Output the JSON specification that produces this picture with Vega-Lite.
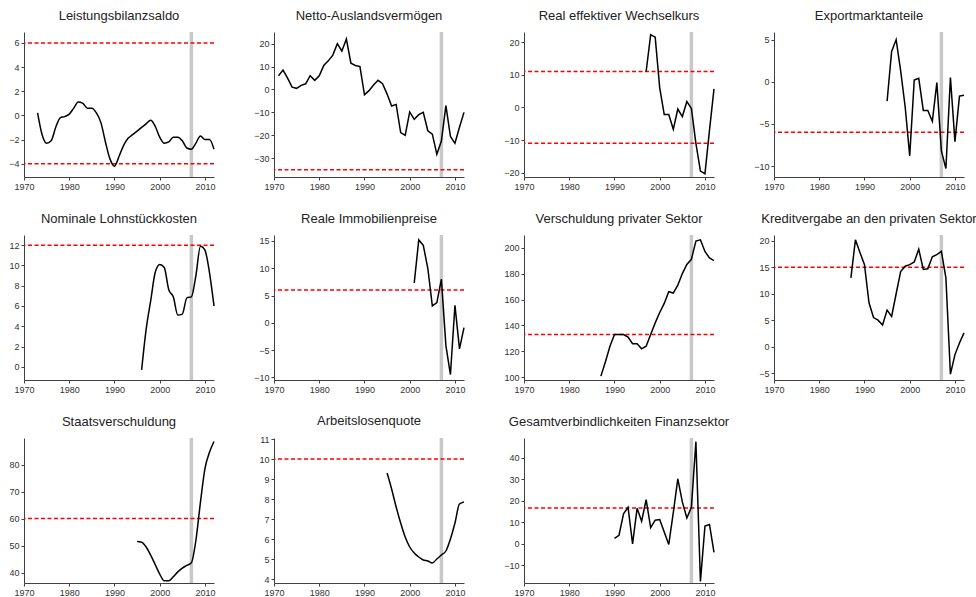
{
  "$schema": "https://vega.github.io/schema/vega-lite/v6.json",
  "background": "white",
  "padding": {"left": 8, "top": 10, "right": 5, "bottom": 5},
  "bounds": "flush",
  "columns": 4,
  "spacing": {"row": 58, "column": 60},
  "datasets": {
    "crisis": [{"year": 2007}],
    "thresholds": [
      {"panel": "leistungsbilanz", "value": 6},
      {"panel": "leistungsbilanz", "value": -4},
      {"panel": "nettoausland", "value": -35},
      {"panel": "reer", "value": 11},
      {"panel": "reer", "value": -11},
      {"panel": "export", "value": -6},
      {"panel": "lohn", "value": 12},
      {"panel": "immo", "value": 6},
      {"panel": "privschuld", "value": 133},
      {"panel": "kredit", "value": 15},
      {"panel": "staat", "value": 60},
      {"panel": "alq", "value": 10},
      {"panel": "finanz", "value": 16.7}
    ],
    "leistungsbilanz": [
      {"year": 1973, "value": 0.2}, {"year": 1974, "value": -1.6}, {"year": 1975, "value": -2.3}, {"year": 1976, "value": -2.1},
      {"year": 1977, "value": -1.0}, {"year": 1978, "value": -0.2}, {"year": 1979, "value": -0.1}, {"year": 1980, "value": 0.1},
      {"year": 1981, "value": 0.6}, {"year": 1982, "value": 1.1}, {"year": 1983, "value": 1.0}, {"year": 1984, "value": 0.6},
      {"year": 1985, "value": 0.6}, {"year": 1986, "value": 0.2}, {"year": 1987, "value": -0.6}, {"year": 1988, "value": -2.2},
      {"year": 1989, "value": -3.6}, {"year": 1990, "value": -4.2}, {"year": 1991, "value": -3.4}, {"year": 1992, "value": -2.5},
      {"year": 1993, "value": -1.9}, {"year": 1994, "value": -1.6}, {"year": 1995, "value": -1.3}, {"year": 1996, "value": -1.0},
      {"year": 1997, "value": -0.7}, {"year": 1998, "value": -0.4}, {"year": 1999, "value": -0.9}, {"year": 2000, "value": -1.8},
      {"year": 2001, "value": -2.3}, {"year": 2002, "value": -2.2}, {"year": 2003, "value": -1.8}, {"year": 2004, "value": -1.8},
      {"year": 2005, "value": -2.1}, {"year": 2006, "value": -2.7}, {"year": 2007, "value": -2.8}, {"year": 2008, "value": -2.3},
      {"year": 2009, "value": -1.7}, {"year": 2010, "value": -2.0}, {"year": 2011, "value": -2.0}, {"year": 2012, "value": -2.8}
    ],
    "nettoausland": [
      {"year": 1971, "value": 6}, {"year": 1972, "value": 8.5}, {"year": 1973, "value": 5}, {"year": 1974, "value": 1},
      {"year": 1975, "value": 0.5}, {"year": 1976, "value": 1.8}, {"year": 1977, "value": 2.5}, {"year": 1978, "value": 6},
      {"year": 1979, "value": 4}, {"year": 1980, "value": 6}, {"year": 1981, "value": 10.5}, {"year": 1982, "value": 12.5},
      {"year": 1983, "value": 15}, {"year": 1984, "value": 20}, {"year": 1985, "value": 16.8}, {"year": 1986, "value": 22},
      {"year": 1987, "value": 11.5}, {"year": 1988, "value": 10.5}, {"year": 1989, "value": 10}, {"year": 1990, "value": -2.3},
      {"year": 1991, "value": -0.5}, {"year": 1992, "value": 2}, {"year": 1993, "value": 4}, {"year": 1994, "value": 2.5},
      {"year": 1995, "value": -2}, {"year": 1996, "value": -7.2}, {"year": 1997, "value": -6.5}, {"year": 1998, "value": -18.8},
      {"year": 1999, "value": -20}, {"year": 2000, "value": -9.8}, {"year": 2001, "value": -13}, {"year": 2002, "value": -11},
      {"year": 2003, "value": -10}, {"year": 2004, "value": -18}, {"year": 2005, "value": -19.5}, {"year": 2006, "value": -28.3},
      {"year": 2007, "value": -22.5}, {"year": 2008, "value": -7}, {"year": 2009, "value": -20.5}, {"year": 2010, "value": -23.5},
      {"year": 2011, "value": -16.5}, {"year": 2012, "value": -10}
    ],
    "reer": [
      {"year": 1997, "value": 11}, {"year": 1998, "value": 22.3}, {"year": 1999, "value": 21.5}, {"year": 2000, "value": 6},
      {"year": 2001, "value": -2.2}, {"year": 2002, "value": -2.2}, {"year": 2003, "value": -6.7}, {"year": 2004, "value": -0.5},
      {"year": 2005, "value": -2.8}, {"year": 2006, "value": 1.8}, {"year": 2007, "value": -0.3}, {"year": 2008, "value": -11},
      {"year": 2009, "value": -19.5}, {"year": 2010, "value": -20.3}, {"year": 2011, "value": -7}, {"year": 2012, "value": 5.7}
    ],
    "export": [
      {"year": 1995, "value": -2.3}, {"year": 1996, "value": 3.6}, {"year": 1997, "value": 5}, {"year": 1998, "value": 1.3},
      {"year": 1999, "value": -3}, {"year": 2000, "value": -8.8}, {"year": 2001, "value": 0.2}, {"year": 2002, "value": 0.4},
      {"year": 2003, "value": -3.4}, {"year": 2004, "value": -3.4}, {"year": 2005, "value": -4.7}, {"year": 2006, "value": -0.1},
      {"year": 2007, "value": -8.2}, {"year": 2008, "value": -10.3}, {"year": 2009, "value": 0.5}, {"year": 2010, "value": -7.1},
      {"year": 2011, "value": -1.7}, {"year": 2012, "value": -1.6}
    ],
    "lohn": [
      {"year": 1996, "value": -0.3}, {"year": 1997, "value": 3.7}, {"year": 1998, "value": 6.5}, {"year": 1999, "value": 9.3},
      {"year": 2000, "value": 10.1}, {"year": 2001, "value": 9.8}, {"year": 2002, "value": 7.6}, {"year": 2003, "value": 6.9},
      {"year": 2004, "value": 5.1}, {"year": 2005, "value": 5.2}, {"year": 2006, "value": 6.8}, {"year": 2007, "value": 6.9},
      {"year": 2008, "value": 9.0}, {"year": 2009, "value": 11.9}, {"year": 2010, "value": 11.5}, {"year": 2011, "value": 9.3},
      {"year": 2012, "value": 6.0}
    ],
    "immo": [
      {"year": 2001, "value": 7.3}, {"year": 2002, "value": 15.2}, {"year": 2003, "value": 14.2}, {"year": 2004, "value": 10},
      {"year": 2005, "value": 3.1}, {"year": 2006, "value": 3.7}, {"year": 2007, "value": 8.0}, {"year": 2008, "value": -4.2},
      {"year": 2009, "value": -9.5}, {"year": 2010, "value": 3.2}, {"year": 2011, "value": -4.8}, {"year": 2012, "value": -0.9}
    ],
    "privschuld": [
      {"year": 1987, "value": 101}, {"year": 1988, "value": 112}, {"year": 1989, "value": 124}, {"year": 1990, "value": 133},
      {"year": 1991, "value": 133}, {"year": 1992, "value": 133}, {"year": 1993, "value": 131}, {"year": 1994, "value": 126},
      {"year": 1995, "value": 126}, {"year": 1996, "value": 122}, {"year": 1997, "value": 124}, {"year": 1998, "value": 133},
      {"year": 1999, "value": 142}, {"year": 2000, "value": 150}, {"year": 2001, "value": 157}, {"year": 2002, "value": 166},
      {"year": 2003, "value": 165}, {"year": 2004, "value": 171}, {"year": 2005, "value": 180}, {"year": 2006, "value": 187},
      {"year": 2007, "value": 191}, {"year": 2008, "value": 205}, {"year": 2009, "value": 206}, {"year": 2010, "value": 197},
      {"year": 2011, "value": 192}, {"year": 2012, "value": 190}
    ],
    "kredit": [
      {"year": 1987, "value": 13}, {"year": 1988, "value": 20.2}, {"year": 1989, "value": 17.8}, {"year": 1990, "value": 15.5},
      {"year": 1991, "value": 8.3}, {"year": 1992, "value": 5.5}, {"year": 1993, "value": 5}, {"year": 1994, "value": 4.1},
      {"year": 1995, "value": 6.9}, {"year": 1996, "value": 5.7}, {"year": 1997, "value": 10}, {"year": 1998, "value": 14.2},
      {"year": 1999, "value": 15.2}, {"year": 2000, "value": 15.5}, {"year": 2001, "value": 16}, {"year": 2002, "value": 18.4},
      {"year": 2003, "value": 14.6}, {"year": 2004, "value": 14.7}, {"year": 2005, "value": 17}, {"year": 2006, "value": 17.4},
      {"year": 2007, "value": 18}, {"year": 2008, "value": 13}, {"year": 2009, "value": -5.2}, {"year": 2010, "value": -1.5},
      {"year": 2011, "value": 0.7}, {"year": 2012, "value": 2.6}
    ],
    "staat": [
      {"year": 1995, "value": 51.5}, {"year": 1996, "value": 51.3}, {"year": 1997, "value": 49.5}, {"year": 1998, "value": 46.5},
      {"year": 1999, "value": 43}, {"year": 2000, "value": 39.5}, {"year": 2001, "value": 37}, {"year": 2002, "value": 37},
      {"year": 2003, "value": 38.5}, {"year": 2004, "value": 40.3}, {"year": 2005, "value": 41.7}, {"year": 2006, "value": 42.7},
      {"year": 2007, "value": 43.7}, {"year": 2008, "value": 52}, {"year": 2009, "value": 66}, {"year": 2010, "value": 78.5},
      {"year": 2011, "value": 84.5}, {"year": 2012, "value": 88.5}
    ],
    "alq": [
      {"year": 1995, "value": 9.3}, {"year": 1996, "value": 8.5}, {"year": 1997, "value": 7.6}, {"year": 1998, "value": 6.8},
      {"year": 1999, "value": 6.1}, {"year": 2000, "value": 5.6}, {"year": 2001, "value": 5.3}, {"year": 2002, "value": 5.1},
      {"year": 2003, "value": 4.95}, {"year": 2004, "value": 4.9}, {"year": 2005, "value": 4.8}, {"year": 2006, "value": 5.0},
      {"year": 2007, "value": 5.2}, {"year": 2008, "value": 5.4}, {"year": 2009, "value": 6.0}, {"year": 2010, "value": 6.8},
      {"year": 2011, "value": 7.75}, {"year": 2012, "value": 7.85}
    ],
    "finanz": [
      {"year": 1990, "value": 2.5}, {"year": 1991, "value": 4}, {"year": 1992, "value": 14}, {"year": 1993, "value": 17},
      {"year": 1994, "value": 0}, {"year": 1995, "value": 16.5}, {"year": 1996, "value": 10.5}, {"year": 1997, "value": 20.5},
      {"year": 1998, "value": 7.5}, {"year": 1999, "value": 11}, {"year": 2000, "value": 11.3}, {"year": 2001, "value": 5.5},
      {"year": 2002, "value": -0.3}, {"year": 2003, "value": 14.5}, {"year": 2004, "value": 30.2}, {"year": 2005, "value": 19.5},
      {"year": 2006, "value": 12}, {"year": 2007, "value": 17}, {"year": 2008, "value": 47.5}, {"year": 2009, "value": -17.5},
      {"year": 2010, "value": 8.3}, {"year": 2011, "value": 9}, {"year": 2012, "value": -4}
    ]
  },
  "concat": [
    {
      "title": "Leistungsbilanzsaldo", "width": 190, "height": 145,
      "layer": [
        {"data": {"name": "crisis"}, "mark": {"type": "rule", "color": "#c8c8c8", "strokeWidth": 3.5},
         "encoding": {"x": {"field": "year", "type": "quantitative", "title": null, "scale": {"domain": [1970, 2012], "nice": false}, "axis": {"values": [1970, 1980, 1990, 2000, 2010], "format": "d", "labelOverlap": false}}}},
        {"data": {"name": "thresholds"}, "transform": [{"filter": "datum.panel === 'leistungsbilanz'"}], "mark": {"type": "rule", "color": "#ff0000", "strokeWidth": 1.5, "strokeDash": [4, 2.5]},
         "encoding": {"y": {"field": "value", "type": "quantitative", "title": null, "scale": {"domain": [-5.1, 6.9], "nice": false, "zero": false}, "axis": {"values": [-4, -2, 0, 2, 4, 6], "labelOverlap": false, "tickCount": 6}}}},
        {"data": {"name": "leistungsbilanz"}, "mark": {"type": "line", "color": "#000000", "strokeWidth": 1.5, "interpolate": "monotone"},
         "encoding": {"x": {"field": "year", "type": "quantitative", "title": null}, "y": {"field": "value", "type": "quantitative", "title": null}}}
      ]
    },
    {
      "title": "Netto-Auslandsvermögen", "width": 190, "height": 145,
      "layer": [
        {"data": {"name": "crisis"}, "mark": {"type": "rule", "color": "#c8c8c8", "strokeWidth": 3.5},
         "encoding": {"x": {"field": "year", "type": "quantitative", "title": null, "scale": {"domain": [1970, 2012], "nice": false}, "axis": {"values": [1970, 1980, 1990, 2000, 2010], "format": "d", "labelOverlap": false}}}},
        {"data": {"name": "thresholds"}, "transform": [{"filter": "datum.panel === 'nettoausland'"}], "mark": {"type": "rule", "color": "#ff0000", "strokeWidth": 1.5, "strokeDash": [4, 2.5]},
         "encoding": {"y": {"field": "value", "type": "quantitative", "title": null, "scale": {"domain": [-38.2, 25.1], "nice": false, "zero": false}, "axis": {"values": [-30, -20, -10, 0, 10, 20], "labelOverlap": false, "tickCount": 6}}}},
        {"data": {"name": "nettoausland"}, "mark": {"type": "line", "color": "#000000", "strokeWidth": 1.5},
         "encoding": {"x": {"field": "year", "type": "quantitative", "title": null}, "y": {"field": "value", "type": "quantitative", "title": null}}}
      ]
    },
    {
      "title": "Real effektiver Wechselkurs", "width": 190, "height": 145,
      "layer": [
        {"data": {"name": "crisis"}, "mark": {"type": "rule", "color": "#c8c8c8", "strokeWidth": 3.5},
         "encoding": {"x": {"field": "year", "type": "quantitative", "title": null, "scale": {"domain": [1970, 2012], "nice": false}, "axis": {"values": [1970, 1980, 1990, 2000, 2010], "format": "d", "labelOverlap": false}}}},
        {"data": {"name": "thresholds"}, "transform": [{"filter": "datum.panel === 'reer'"}], "mark": {"type": "rule", "color": "#ff0000", "strokeWidth": 1.5, "strokeDash": [4, 2.5]},
         "encoding": {"y": {"field": "value", "type": "quantitative", "title": null, "scale": {"domain": [-21.3, 23.1], "nice": false, "zero": false}, "axis": {"values": [-20, -10, 0, 10, 20], "labelOverlap": false, "tickCount": 5}}}},
        {"data": {"name": "reer"}, "mark": {"type": "line", "color": "#000000", "strokeWidth": 1.5},
         "encoding": {"x": {"field": "year", "type": "quantitative", "title": null}, "y": {"field": "value", "type": "quantitative", "title": null}}}
      ]
    },
    {
      "title": "Exportmarktanteile", "width": 190, "height": 145,
      "layer": [
        {"data": {"name": "crisis"}, "mark": {"type": "rule", "color": "#c8c8c8", "strokeWidth": 3.5},
         "encoding": {"x": {"field": "year", "type": "quantitative", "title": null, "scale": {"domain": [1970, 2012], "nice": false}, "axis": {"values": [1970, 1980, 1990, 2000, 2010], "format": "d", "labelOverlap": false}}}},
        {"data": {"name": "thresholds"}, "transform": [{"filter": "datum.panel === 'export'"}], "mark": {"type": "rule", "color": "#ff0000", "strokeWidth": 1.5, "strokeDash": [4, 2.5]},
         "encoding": {"y": {"field": "value", "type": "quantitative", "title": null, "scale": {"domain": [-11.3, 5.9], "nice": false, "zero": false}, "axis": {"values": [-10, -5, 0, 5], "labelOverlap": false, "tickCount": 4}}}},
        {"data": {"name": "export"}, "mark": {"type": "line", "color": "#000000", "strokeWidth": 1.5},
         "encoding": {"x": {"field": "year", "type": "quantitative", "title": null}, "y": {"field": "value", "type": "quantitative", "title": null}}}
      ]
    },
    {
      "title": "Nominale Lohnstückkosten", "width": 190, "height": 145,
      "layer": [
        {"data": {"name": "crisis"}, "mark": {"type": "rule", "color": "#c8c8c8", "strokeWidth": 3.5},
         "encoding": {"x": {"field": "year", "type": "quantitative", "title": null, "scale": {"domain": [1970, 2012], "nice": false}, "axis": {"values": [1970, 1980, 1990, 2000, 2010], "format": "d", "labelOverlap": false}}}},
        {"data": {"name": "thresholds"}, "transform": [{"filter": "datum.panel === 'lohn'"}], "mark": {"type": "rule", "color": "#ff0000", "strokeWidth": 1.5, "strokeDash": [4, 2.5]},
         "encoding": {"y": {"field": "value", "type": "quantitative", "title": null, "scale": {"domain": [-1.3, 13], "nice": false, "zero": false}, "axis": {"values": [0, 2, 4, 6, 8, 10, 12], "labelOverlap": false, "tickCount": 7}}}},
        {"data": {"name": "lohn"}, "mark": {"type": "line", "color": "#000000", "strokeWidth": 1.5, "interpolate": "monotone"},
         "encoding": {"x": {"field": "year", "type": "quantitative", "title": null}, "y": {"field": "value", "type": "quantitative", "title": null}}}
      ]
    },
    {
      "title": "Reale Immobilienpreise", "width": 190, "height": 145,
      "layer": [
        {"data": {"name": "crisis"}, "mark": {"type": "rule", "color": "#c8c8c8", "strokeWidth": 3.5},
         "encoding": {"x": {"field": "year", "type": "quantitative", "title": null, "scale": {"domain": [1970, 2012], "nice": false}, "axis": {"values": [1970, 1980, 1990, 2000, 2010], "format": "d", "labelOverlap": false}}}},
        {"data": {"name": "thresholds"}, "transform": [{"filter": "datum.panel === 'immo'"}], "mark": {"type": "rule", "color": "#ff0000", "strokeWidth": 1.5, "strokeDash": [4, 2.5]},
         "encoding": {"y": {"field": "value", "type": "quantitative", "title": null, "scale": {"domain": [-10.5, 16.1], "nice": false, "zero": false}, "axis": {"values": [-10, -5, 0, 5, 10, 15], "labelOverlap": false, "tickCount": 6}}}},
        {"data": {"name": "immo"}, "mark": {"type": "line", "color": "#000000", "strokeWidth": 1.5},
         "encoding": {"x": {"field": "year", "type": "quantitative", "title": null}, "y": {"field": "value", "type": "quantitative", "title": null}}}
      ]
    },
    {
      "title": "Verschuldung privater Sektor", "width": 190, "height": 145,
      "layer": [
        {"data": {"name": "crisis"}, "mark": {"type": "rule", "color": "#c8c8c8", "strokeWidth": 3.5},
         "encoding": {"x": {"field": "year", "type": "quantitative", "title": null, "scale": {"domain": [1970, 2012], "nice": false}, "axis": {"values": [1970, 1980, 1990, 2000, 2010], "format": "d", "labelOverlap": false}}}},
        {"data": {"name": "thresholds"}, "transform": [{"filter": "datum.panel === 'privschuld'"}], "mark": {"type": "rule", "color": "#ff0000", "strokeWidth": 1.5, "strokeDash": [4, 2.5]},
         "encoding": {"y": {"field": "value", "type": "quantitative", "title": null, "scale": {"domain": [98, 209.7], "nice": false, "zero": false}, "axis": {"values": [100, 120, 140, 160, 180, 200], "labelOverlap": false, "tickCount": 6}}}},
        {"data": {"name": "privschuld"}, "mark": {"type": "line", "color": "#000000", "strokeWidth": 1.5},
         "encoding": {"x": {"field": "year", "type": "quantitative", "title": null}, "y": {"field": "value", "type": "quantitative", "title": null}}}
      ]
    },
    {
      "title": "Kreditvergabe an den privaten Sektor", "width": 190, "height": 145,
      "layer": [
        {"data": {"name": "crisis"}, "mark": {"type": "rule", "color": "#c8c8c8", "strokeWidth": 3.5},
         "encoding": {"x": {"field": "year", "type": "quantitative", "title": null, "scale": {"domain": [1970, 2012], "nice": false}, "axis": {"values": [1970, 1980, 1990, 2000, 2010], "format": "d", "labelOverlap": false}}}},
        {"data": {"name": "thresholds"}, "transform": [{"filter": "datum.panel === 'kredit'"}], "mark": {"type": "rule", "color": "#ff0000", "strokeWidth": 1.5, "strokeDash": [4, 2.5]},
         "encoding": {"y": {"field": "value", "type": "quantitative", "title": null, "scale": {"domain": [-6.3, 21.1], "nice": false, "zero": false}, "axis": {"values": [-5, 0, 5, 10, 15, 20], "labelOverlap": false, "tickCount": 6}}}},
        {"data": {"name": "kredit"}, "mark": {"type": "line", "color": "#000000", "strokeWidth": 1.5},
         "encoding": {"x": {"field": "year", "type": "quantitative", "title": null}, "y": {"field": "value", "type": "quantitative", "title": null}}}
      ]
    },
    {
      "title": "Staatsverschuldung", "width": 190, "height": 145,
      "layer": [
        {"data": {"name": "crisis"}, "mark": {"type": "rule", "color": "#c8c8c8", "strokeWidth": 3.5},
         "encoding": {"x": {"field": "year", "type": "quantitative", "title": null, "scale": {"domain": [1970, 2012], "nice": false}, "axis": {"values": [1970, 1980, 1990, 2000, 2010], "format": "d", "labelOverlap": false}}}},
        {"data": {"name": "thresholds"}, "transform": [{"filter": "datum.panel === 'staat'"}], "mark": {"type": "rule", "color": "#ff0000", "strokeWidth": 1.5, "strokeDash": [4, 2.5]},
         "encoding": {"y": {"field": "value", "type": "quantitative", "title": null, "scale": {"domain": [36.2, 89.8], "nice": false, "zero": false}, "axis": {"values": [40, 50, 60, 70, 80], "labelOverlap": false, "tickCount": 5}}}},
        {"data": {"name": "staat"}, "mark": {"type": "line", "color": "#000000", "strokeWidth": 1.5, "interpolate": "monotone"},
         "encoding": {"x": {"field": "year", "type": "quantitative", "title": null}, "y": {"field": "value", "type": "quantitative", "title": null}}}
      ]
    },
    {
      "title": "Arbeitslosenquote", "width": 190, "height": 145,
      "layer": [
        {"data": {"name": "crisis"}, "mark": {"type": "rule", "color": "#c8c8c8", "strokeWidth": 3.5},
         "encoding": {"x": {"field": "year", "type": "quantitative", "title": null, "scale": {"domain": [1970, 2012], "nice": false}, "axis": {"values": [1970, 1980, 1990, 2000, 2010], "format": "d", "labelOverlap": false}}}},
        {"data": {"name": "thresholds"}, "transform": [{"filter": "datum.panel === 'alq'"}], "mark": {"type": "rule", "color": "#ff0000", "strokeWidth": 1.5, "strokeDash": [4, 2.5]},
         "encoding": {"y": {"field": "value", "type": "quantitative", "title": null, "scale": {"domain": [3.8, 11.05], "nice": false, "zero": false}, "axis": {"values": [4, 5, 6, 7, 8, 9, 10, 11], "labelOverlap": false, "tickCount": 8}}}},
        {"data": {"name": "alq"}, "mark": {"type": "line", "color": "#000000", "strokeWidth": 1.5, "interpolate": "monotone"},
         "encoding": {"x": {"field": "year", "type": "quantitative", "title": null}, "y": {"field": "value", "type": "quantitative", "title": null}}}
      ]
    },
    {
      "title": "Gesamtverbindlichkeiten Finanzsektor", "width": 190, "height": 145,
      "layer": [
        {"data": {"name": "crisis"}, "mark": {"type": "rule", "color": "#c8c8c8", "strokeWidth": 3.5},
         "encoding": {"x": {"field": "year", "type": "quantitative", "title": null, "scale": {"domain": [1970, 2012], "nice": false}, "axis": {"values": [1970, 1980, 1990, 2000, 2010], "format": "d", "labelOverlap": false}}}},
        {"data": {"name": "thresholds"}, "transform": [{"filter": "datum.panel === 'finanz'"}], "mark": {"type": "rule", "color": "#ff0000", "strokeWidth": 1.5, "strokeDash": [4, 2.5]},
         "encoding": {"y": {"field": "value", "type": "quantitative", "title": null, "scale": {"domain": [-18.2, 49.2], "nice": false, "zero": false}, "axis": {"values": [-10, 0, 10, 20, 30, 40], "labelOverlap": false, "tickCount": 6}}}},
        {"data": {"name": "finanz"}, "mark": {"type": "line", "color": "#000000", "strokeWidth": 1.5},
         "encoding": {"x": {"field": "year", "type": "quantitative", "title": null}, "y": {"field": "value", "type": "quantitative", "title": null}}}
      ]
    }
  ],
  "config": {
    "view": {"stroke": null},
    "axis": {"grid": false, "domainColor": "#404040", "tickColor": "#404040", "labelColor": "#333333", "labelFont": "Liberation Sans", "labelFontSize": 9, "tickSize": 3, "labelPadding": 2, "domainWidth": 1, "tickWidth": 1, "labelOverlap": false},
    "axisX": {"labelFlush": false},
    "title": {"font": "Liberation Sans", "fontSize": 13, "fontWeight": "normal", "color": "#222222", "anchor": "middle", "offset": 7}
  }
}
